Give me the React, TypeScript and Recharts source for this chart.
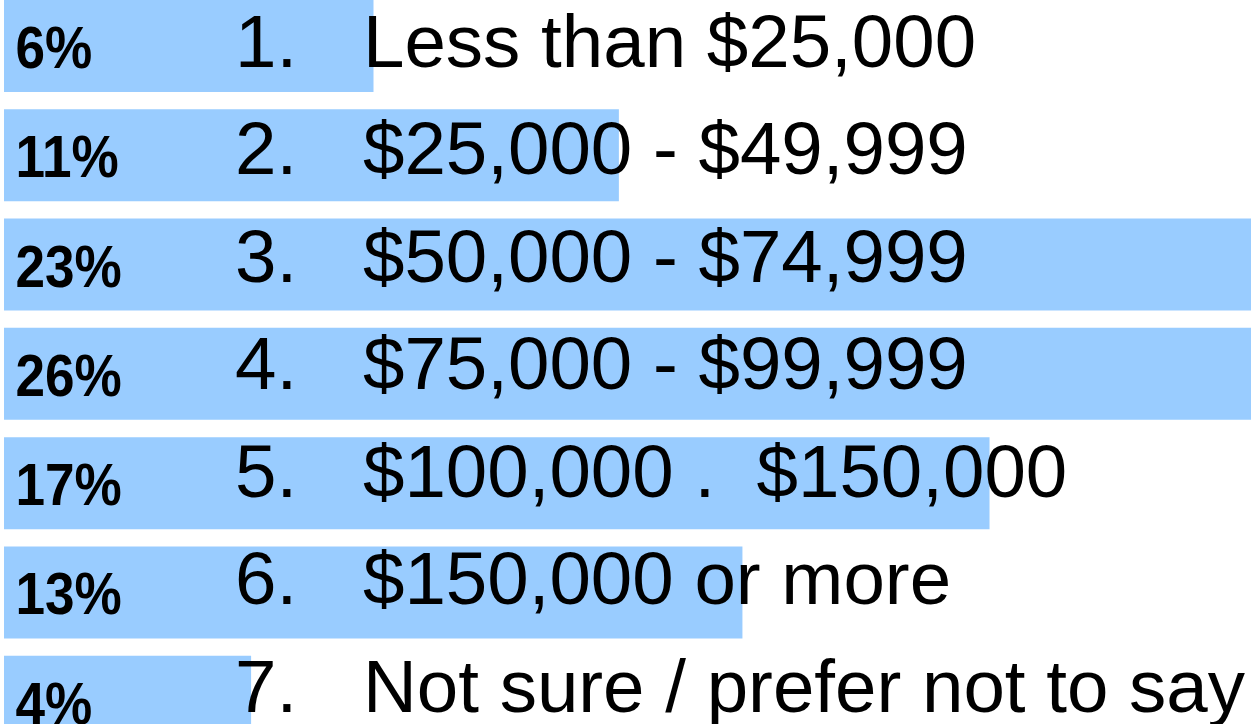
import React from 'react';
import { BarChart, Bar, XAxis, YAxis, LabelList } from 'recharts';

// Household income survey answers, one row per option
const itemNumbers = ['1.', '2.', '3.', '4.', '5.', '6.', '7.'];
const incomeRanges = [
    'Less than $25,000',
    '$25,000 - $49,999',
    '$50,000 - $74,999',
    '$75,000 - $99,999',
    '$100,000 .  $150,000',
    '$150,000 or more',
    'Not sure / prefer not to say',
];
const percentLabels = ['6%', '11%', '23%', '26%', '17%', '13%', '4%'];
// bar lengths (the two largest run off the slide)
const shareValues = [6.43, 10.7, 23, 26, 17.15, 12.85, 4.3];

const AXIS_MAX = 21.7;
const BAR_COLOR = '#99CCFF';
const FONT = '"Liberation Sans", Arial, Helvetica, sans-serif';

const rows = incomeRanges.map((range, i) => ({
    num: itemNumbers[i],
    range,
    pct: percentLabels[i],
    share: shareValues[i],
}));

const RowLabels = (props: any) => {
    const { viewBox, index } = props;
    const row = rows[index];
    if (!row || !viewBox) return null;
    const center = viewBox.y + viewBox.height / 2;
    // the slide text drifts upward a little on each line
    const textY = center + 21 - 1.85 * index;
    return (
        <g>
            <text
                transform={`translate(15.5, ${center + 22}) scale(0.885, 1)`}
                x={0}
                y={0}
                fontFamily={FONT}
                fontSize={60}
                fontWeight="bold"
                fill="#000"
            >
                {row.pct}
            </text>
            <text x={235} y={textY} fontFamily={FONT} fontSize={74.5} fill="#000">
                {row.num}
            </text>
            <text
                x={363}
                y={textY}
                fontFamily={FONT}
                fontSize={74.5}
                fill="#000"
                xmlSpace="preserve"
                style={{ whiteSpace: 'pre' }}
            >
                {row.range}
            </text>
        </g>
    );
};

const App: React.FC = () => {
    return (
        <div style={{ position: 'fixed', left: 0, top: 0, width: 1251, height: 724, overflow: 'hidden', background: '#fff' }}>
            <div style={{ position: 'absolute', left: 0, top: -9 }}>
                <BarChart
                    width={1251}
                    height={765}
                    data={rows}
                    layout="vertical"
                    margin={{ top: 0, right: 0, bottom: 0, left: 4 }}
                    barSize={92}
                >
                    <XAxis type="number" domain={[0, AXIS_MAX]} allowDataOverflow hide />
                    <YAxis type="category" dataKey="range" hide />
                    <Bar dataKey="share" fill={BAR_COLOR} isAnimationActive={false}>
                        <LabelList dataKey="range" content={<RowLabels />} />
                    </Bar>
                </BarChart>
            </div>
        </div>
    );
};

export default App;
